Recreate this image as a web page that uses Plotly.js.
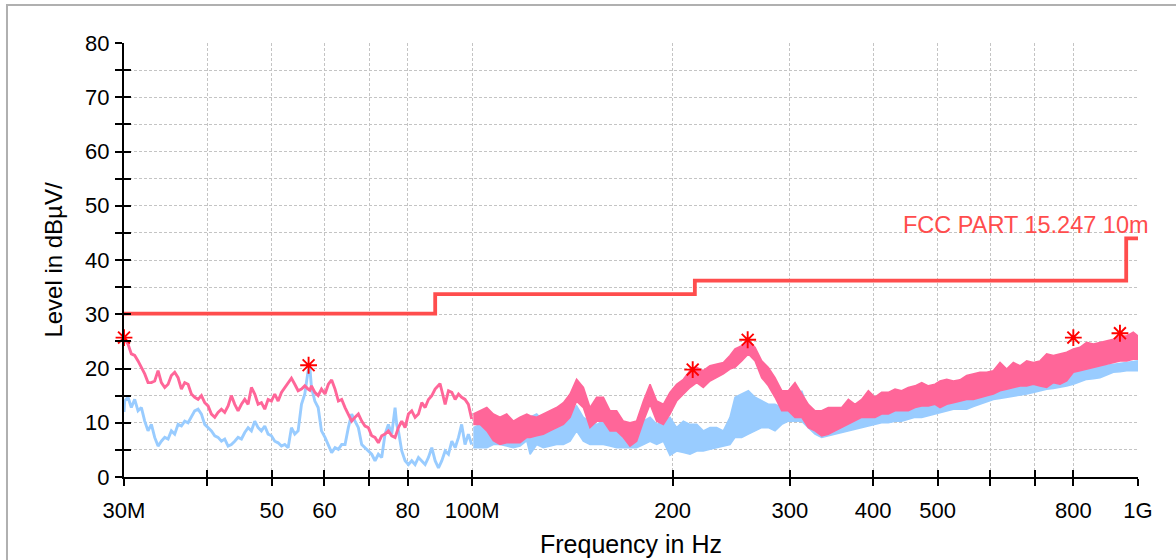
<!DOCTYPE html>
<html>
<head>
<meta charset="utf-8">
<script src="https://cdn.plot.ly/plotly-3.0.1.min.js"></script>
<style>html,body{margin:0;padding:0;background:#fff;}#chart{width:1176px;height:560px;}</style>
</head>
<body>
<div id="chart"></div>
<script>
// ---- data (frequencies in MHz, levels in dBuV/m) ----
const fLow = [30.0, 30.07, 30.42, 30.77, 31.13, 31.49, 31.86, 32.23, 32.60, 32.98, 33.36, 33.75, 34.14, 34.54, 34.94, 35.34, 35.75, 36.17, 36.59, 37.01, 37.44, 37.87, 38.31, 38.76, 39.21, 39.66, 40.12, 40.59, 41.06, 41.53, 42.02, 42.50, 43.00, 43.49, 44.00, 44.51, 45.03, 45.55, 46.08, 46.61, 47.15, 47.70, 48.25, 48.81, 49.38, 49.95, 50.53, 51.12, 51.71, 52.31, 52.92, 53.53, 54.15, 54.78, 55.42, 56.06, 56.71, 57.04, 57.37, 58.04, 58.71, 59.39, 60.12, 60.82, 61.52, 62.24, 62.96, 63.69, 64.43, 65.17, 65.55, 65.93, 66.69, 67.47, 68.25, 69.04, 69.84, 70.65, 71.47, 72.30, 73.14, 73.99, 74.85, 75.72, 76.60, 77.03, 77.49, 78.39, 79.30, 80.22, 81.15, 82.09, 83.05, 84.01, 84.99, 85.97, 86.97, 87.98, 89.00, 89.48, 90.04, 91.08, 92.14, 93.21, 94.29, 95.39, 96.44, 97.56, 98.70, 99.84];
const pkLow = [25.6, 25.4, 24.5, 22.7, 22.4, 21.4, 20.2, 19.0, 17.4, 17.4, 17.7, 19.6, 17.4, 16.5, 17.1, 18.7, 19.3, 18.3, 16.2, 17.4, 17.1, 15.3, 14.7, 14.3, 15.0, 13.7, 13.1, 11.6, 11.0, 11.9, 12.5, 11.9, 13.1, 15.0, 13.4, 12.2, 13.4, 14.3, 13.4, 16.5, 15.3, 13.4, 13.7, 12.5, 14.3, 14.0, 15.3, 14.0, 15.6, 16.5, 17.4, 18.2, 17.1, 15.9, 16.2, 16.8, 16.2, 16.0, 16.8, 15.6, 15.0, 16.2, 15.3, 17.1, 17.9, 16.2, 14.0, 14.3, 12.8, 11.6, 11.0, 10.3, 11.0, 11.6, 10.3, 9.4, 9.1, 7.6, 7.3, 6.3, 7.6, 7.9, 8.5, 7.6, 7.3, 8.2, 9.1, 10.3, 9.1, 11.6, 12.2, 11.0, 11.6, 13.7, 12.8, 14.3, 15.0, 16.2, 16.8, 17.2, 15.9, 13.4, 15.9, 15.6, 14.3, 15.3, 14.7, 14.3, 13.4, 10.7];
const avLow = [12.0, 14.0, 14.7, 12.8, 14.3, 12.2, 12.8, 10.3, 8.5, 9.7, 7.3, 5.7, 6.6, 7.3, 7.0, 8.5, 7.9, 9.7, 9.4, 10.3, 10.0, 11.0, 12.2, 12.5, 11.6, 9.7, 9.1, 8.5, 7.6, 7.3, 6.6, 7.0, 5.7, 6.0, 6.6, 7.3, 7.0, 8.2, 9.1, 8.5, 10.3, 9.1, 8.5, 9.4, 7.9, 7.6, 6.6, 6.3, 5.7, 6.0, 5.4, 9.1, 7.9, 8.5, 13.4, 15.3, 19.6, 20.2, 16.5, 14.0, 12.8, 8.5, 7.3, 6.0, 4.5, 5.4, 5.1, 6.0, 6.0, 9.1, 10.7, 11.6, 10.3, 9.1, 6.0, 5.4, 4.8, 4.2, 3.0, 4.2, 3.6, 7.9, 9.7, 7.9, 12.8, 9.7, 8.5, 4.8, 3.0, 2.3, 3.0, 2.3, 3.6, 3.0, 2.3, 3.6, 5.4, 3.0, 1.7, 2.3, 3.0, 4.8, 4.2, 6.6, 5.4, 7.3, 9.7, 6.0, 7.9, 6.0];

const fBand = [100.4, 102.8, 105.2, 107.6, 110.1, 112.7, 115.3, 118.0, 120.8, 122.2, 125.0, 127.9, 130.9, 133.9, 137.1, 140.3, 143.5, 146.9, 150.3, 153.8, 157.4, 161.1, 164.8, 168.7, 172.6, 176.6, 180.8, 185.0, 189.3, 193.7, 198.2, 202.8, 207.6, 212.4, 217.4, 222.4, 227.6, 232.9, 238.4, 243.9, 248.2, 254.0, 259.9, 266.0, 272.2, 278.5, 285.0, 291.7, 298.5, 305.4, 312.6, 319.8, 327.3, 334.9, 342.7, 350.7, 358.9, 367.3, 375.8, 384.6, 393.6, 402.7, 412.1, 421.7, 431.6, 441.6, 451.9, 462.5, 473.3, 484.3, 495.6, 504.3, 516.1, 528.1, 540.4, 553.0, 565.9, 579.1, 592.6, 606.4, 620.6, 635.0, 649.8, 665.0, 680.5, 696.3, 712.6, 729.2, 746.2, 763.6, 781.4, 799.6, 818.2, 837.3, 856.8, 876.8, 897.2, 918.1, 939.5, 961.4, 983.8, 1000];
const pkTop = [11.6, 12.2, 12.8, 11.6, 11.0, 11.6, 10.3, 11.0, 11.6, 11.3, 11.0, 11.6, 12.2, 12.8, 13.7, 15.3, 18.0, 16.5, 12.8, 14.7, 14.7, 12.2, 12.2, 10.3, 10.0, 10.3, 14.0, 17.1, 14.0, 13.4, 15.6, 17.1, 18.0, 19.6, 20.2, 19.6, 20.5, 20.8, 21.1, 22.4, 23.6, 24.2, 25.2, 23.9, 21.4, 20.2, 18.3, 15.9, 15.9, 17.4, 15.3, 13.4, 12.2, 12.2, 12.8, 12.8, 12.8, 14.3, 13.4, 14.3, 15.9, 14.7, 15.6, 15.6, 16.2, 15.9, 16.5, 16.8, 17.4, 16.8, 17.1, 17.7, 18.0, 17.7, 17.9, 18.7, 19.0, 19.3, 19.3, 19.6, 21.1, 19.9, 21.1, 20.5, 21.4, 21.1, 21.4, 22.7, 22.4, 22.7, 23.0, 23.6, 23.9, 24.8, 24.5, 24.8, 25.1, 25.4, 26.0, 26.0, 26.7, 26.0];
const pkBot = [9.7, 9.7, 8.5, 6.7, 6.0, 6.3, 6.3, 6.3, 7.3, 7.3, 7.6, 7.9, 8.5, 9.1, 9.7, 11.0, 14.0, 12.8, 9.1, 10.3, 10.3, 8.5, 8.5, 7.3, 5.7, 6.6, 10.3, 13.4, 10.3, 9.7, 11.6, 14.0, 15.3, 16.5, 17.4, 16.5, 17.7, 18.3, 19.0, 19.9, 20.2, 21.4, 22.7, 21.4, 18.3, 16.8, 14.7, 12.2, 12.2, 11.0, 11.0, 9.1, 8.5, 7.6, 7.9, 8.5, 9.1, 9.7, 10.3, 11.0, 11.0, 11.0, 11.6, 11.6, 12.2, 12.2, 12.2, 12.8, 13.1, 13.1, 13.4, 12.8, 13.4, 13.7, 14.0, 14.3, 14.3, 14.7, 15.0, 15.3, 15.9, 16.2, 16.5, 16.8, 16.8, 17.1, 16.8, 16.5, 17.4, 17.1, 17.7, 19.3, 19.6, 19.9, 20.2, 20.5, 20.8, 21.1, 21.4, 21.4, 21.7, 21.7];
const avTop = [9.1, 9.7, 9.7, 9.1, 9.1, 9.4, 9.1, 10.3, 11.0, 11.0, 11.6, 10.3, 11.0, 11.6, 10.3, 11.6, 13.1, 11.0, 10.3, 9.7, 10.3, 9.7, 9.1, 9.7, 8.5, 9.1, 10.3, 11.0, 9.7, 10.3, 11.0, 9.1, 10.3, 9.7, 9.7, 8.5, 9.1, 9.1, 8.5, 11.0, 14.7, 15.3, 15.9, 14.7, 14.0, 13.4, 13.4, 12.8, 12.2, 12.2, 15.9, 12.2, 11.0, 11.0, 11.0, 11.0, 11.3, 11.6, 11.9, 12.2, 12.2, 12.5, 12.8, 13.1, 13.4, 13.4, 13.7, 14.0, 14.3, 14.7, 14.7, 14.7, 14.8, 15.0, 15.3, 15.6, 15.7, 15.9, 16.3, 16.8, 17.0, 17.1, 17.2, 17.4, 17.5, 17.7, 18.0, 18.3, 18.5, 18.7, 19.1, 19.6, 19.8, 19.9, 20.2, 20.5, 20.6, 20.8, 21.0, 21.1, 21.3, 21.4];
const avBot = [5.4, 5.4, 5.4, 6.0, 6.0, 5.7, 5.4, 5.7, 6.7, 4.2, 6.0, 5.4, 5.7, 6.0, 6.0, 6.6, 8.5, 6.6, 6.0, 6.0, 6.0, 5.7, 5.4, 5.4, 5.4, 5.4, 6.0, 6.6, 6.0, 6.6, 4.0, 4.8, 4.5, 4.2, 4.8, 4.8, 5.1, 5.4, 5.7, 6.0, 7.3, 7.3, 7.9, 8.5, 9.1, 9.1, 8.5, 9.7, 10.3, 10.3, 10.3, 9.1, 7.9, 7.3, 7.6, 7.9, 8.2, 8.5, 8.8, 9.1, 9.4, 9.7, 10.0, 10.0, 10.3, 10.3, 10.7, 11.0, 11.0, 11.3, 11.6, 11.9, 12.2, 12.5, 12.5, 12.5, 13.0, 13.4, 13.8, 14.3, 14.5, 14.7, 14.9, 15.0, 15.3, 15.6, 15.9, 16.2, 16.3, 16.5, 16.8, 17.1, 17.6, 18.0, 18.1, 18.3, 18.8, 19.3, 19.4, 19.6, 19.6, 19.6];

const limF = [30, 88, 216, 960, 1000];
const limV = [30.1, 33.7, 36.2, 44.0, 44.0];
const limName = 'FCC PART 15.247 10m';

const starF = [30.0, 56.8, 214.4, 259.3, 799.6, 939.5];
const starV = [25.7, 20.6, 19.8, 25.3, 25.7, 26.5];

const xTickVals = [30, 40, 50, 60, 70, 80, 100, 200, 300, 400, 500, 600, 700, 800, 1000];
const xTickText = ['30M', '', '50', '60', '', '80', '100M', '200', '300', '400', '500', '', '', '800', '1G'];
const yTickVals = [0, 5, 10, 15, 20, 25, 30, 35, 40, 45, 50, 55, 60, 65, 70, 75, 80];
const yTickText = ['0', '', '10', '', '20', '', '30', '', '40', '', '50', '', '60', '', '70', '', '80'];

// ---- styles ----
const PINK = '#ff6699';
const BLUE = '#99ccff';
const LIMIT = '#ff4d4d';
const FONT = '"Liberation Sans", Arial, Helvetica, sans-serif';

const traces = [
  {x: fBand, y: avBot, mode: 'lines', line: {color: BLUE, width: 1.6}, hoverinfo: 'skip'},
  {x: fBand, y: avTop, mode: 'lines', line: {color: BLUE, width: 1.6}, fill: 'tonexty', fillcolor: BLUE, hoverinfo: 'skip'},
  {x: fLow, y: avLow, mode: 'lines', line: {color: BLUE, width: 2.9}, hoverinfo: 'skip'},
  {x: fBand, y: pkBot, mode: 'lines', line: {color: PINK, width: 1.6}, hoverinfo: 'skip'},
  {x: fBand, y: pkTop, mode: 'lines', line: {color: PINK, width: 1.6}, fill: 'tonexty', fillcolor: PINK, hoverinfo: 'skip'},
  {x: fLow, y: pkLow, mode: 'lines', line: {color: PINK, width: 2.9}, hoverinfo: 'skip'},
  {x: limF, y: limV, mode: 'lines', line: {color: LIMIT, width: 3.8, shape: 'hv'}, name: limName, hoverinfo: 'skip'},
  {x: starF, y: starV, xaxis: 'x2', yaxis: 'y2', mode: 'markers', cliponaxis: false,
   marker: {symbol: 'asterisk-open', size: 14, color: '#ff0000', line: {color: '#ff0000', width: 1.9}}, hoverinfo: 'skip'}
];

const xRange = [Math.log10(30), Math.log10(1000)];
const commonTickStyle = {tickcolor: '#000', tickwidth: 2, ticklen: 7};

const layout = {
  width: 1176, height: 560,
  margin: {l: 124, r: 38, t: 43, b: 83, pad: 0},
  paper_bgcolor: '#ffffff', plot_bgcolor: '#ffffff',
  showlegend: false,
  font: {family: FONT, color: '#000'},
  xaxis: Object.assign({
    type: 'log', range: xRange, tickmode: 'array', tickvals: xTickVals, ticktext: xTickText,
    ticks: 'outside', showline: true, linecolor: '#000', linewidth: 2,
    showgrid: true, gridcolor: '#c4c4c4', gridwidth: 1, griddash: '3px,2px', zeroline: false,
    tickfont: {size: 22, family: FONT, color: '#000'}, ticklabelstandoff: 6,
    title: {text: 'Frequency in Hz', font: {size: 25, family: FONT, color: '#000'}, standoff: 13}
  }, commonTickStyle),
  yaxis: Object.assign({
    range: [0, 80], tickmode: 'array', tickvals: yTickVals, ticktext: yTickText,
    ticks: 'outside', showline: true, linecolor: '#000', linewidth: 2,
    showgrid: true, gridcolor: '#c4c4c4', gridwidth: 1, griddash: '3px,2px', zeroline: false,
    tickfont: {size: 22, family: FONT, color: '#000'}, ticklabelstandoff: 1,
    title: {text: 'Level in dBµV/', font: {size: 24, family: FONT, color: '#000'}, standoff: 16}
  }, commonTickStyle),
  xaxis2: Object.assign({
    type: 'log', range: xRange, overlaying: 'x', anchor: 'y2', side: 'bottom',
    tickmode: 'array', tickvals: xTickVals, ticks: 'inside', showticklabels: false,
    showgrid: false, showline: false, zeroline: false
  }, commonTickStyle),
  yaxis2: Object.assign({
    range: [0, 80], overlaying: 'y', anchor: 'x2', side: 'left',
    tickmode: 'array', tickvals: yTickVals, ticks: 'inside', showticklabels: false,
    showgrid: false, showline: false, zeroline: false
  }, commonTickStyle),
  annotations: [{
    text: limName, xref: 'paper', x: 1.0128, xanchor: 'right', yref: 'y', y: 46.4, yanchor: 'middle',
    showarrow: false, font: {size: 23.5, family: FONT, color: LIMIT}
  }],
  shapes: [{
    type: 'rect', xref: 'paper', yref: 'paper', x0: -0.1154, x1: 1.06, y0: -0.25, y1: 1.0876,
    line: {color: '#b0b0b0', width: 2}, fillcolor: 'rgba(0,0,0,0)', layer: 'below'
  }]
};

Plotly.newPlot('chart', traces, layout, {staticPlot: true, displayModeBar: false});
</script>
</body>
</html>
